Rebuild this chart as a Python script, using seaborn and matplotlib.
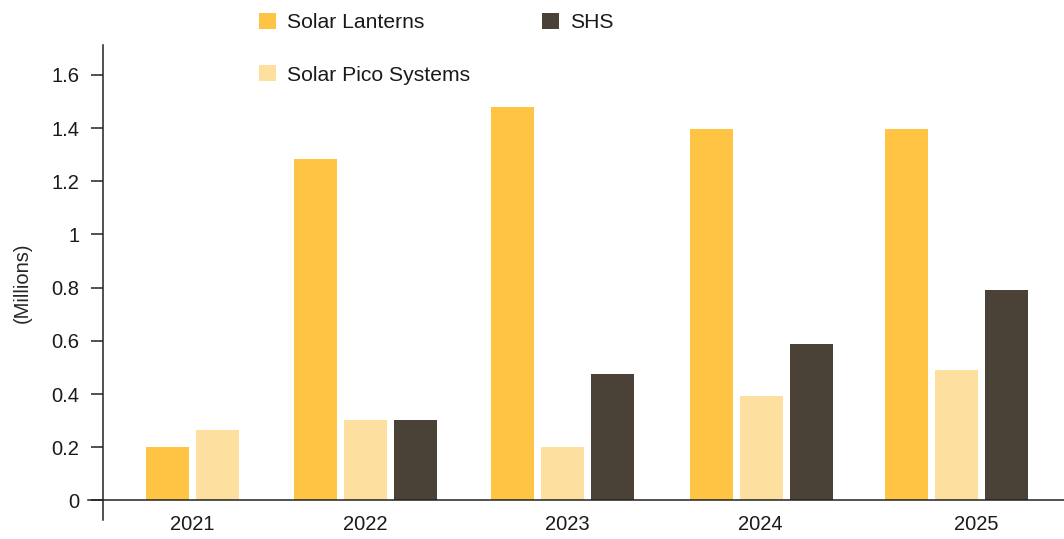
import matplotlib
matplotlib.use("Agg")
import matplotlib.pyplot as plt
import seaborn as sns
import pandas as pd
import numpy as np
from matplotlib.ticker import FuncFormatter

# ---- data ----
years = ["2021", "2022", "2023", "2024", "2025"]
series = ["Solar Lanterns", "Solar Pico Systems", "SHS"]
lanterns = [0.20, 1.285, 1.48, 1.395, 1.395]
pico = [0.265, 0.302, 0.20, 0.393, 0.49]
shs = [np.nan, 0.302, 0.477, 0.587, 0.79]
yticks = [0, 0.2, 0.4, 0.6, 0.8, 1.0, 1.2, 1.4, 1.6]

# ---- layout (horizontal units) ----
group_centers = [192.5, 365.5, 562.5, 761.0, 956.0]
label_centers = [192.0, 365.0, 567.0, 760.0, 976.0]
slot = 50.0
colors = {"Solar Lanterns": "#FFC444", "Solar Pico Systems": "#FDDFA0", "SHS": "#4A4137"}

rows = []
vals = {"Solar Lanterns": lanterns, "Solar Pico Systems": pico, "SHS": shs}
for gi, yr in enumerate(years):
    present = [s for s in series if not np.isnan(vals[s][gi])]
    n = len(present)
    for k, s in enumerate(present):
        rows.append({"year": yr, "series": s, "value": vals[s][gi],
                     "pos": group_centers[gi] + (k - (n - 1) / 2) * slot})
df = pd.DataFrame(rows)

sns.set_theme(style="white")
plt.rcParams["font.family"] = ["Liberation Sans", "DejaVu Sans"]
plt.rcParams["text.color"] = "#1a1a1a"

fig = plt.figure(figsize=(10.64, 5.39), dpi=100)
W, H = 1064, 539
ax = fig.add_axes([88 / W, (H - 520) / H, (W - 88) / W, 475 / H])

sns.barplot(data=df, x="pos", y="value", hue="series", hue_order=series,
            palette=colors, native_scale=True, dodge=False, orient="x",
            width=0.86, saturation=1, errorbar=None, linewidth=0, ax=ax)

ax.set_xlim(88, 1064)
ax.set_ylim(-0.0733, 1.712)

for side in ["top", "right"]:
    ax.spines[side].set_visible(False)
ax.spines["bottom"].set_position(("data", 0))
ax.spines["left"].set_position(("data", 103))
for side in ["bottom", "left"]:
    ax.spines[side].set_color("#222222")
    ax.spines[side].set_linewidth(1.1)

ax.set_yticks(yticks)
ax.yaxis.set_major_formatter(FuncFormatter(lambda v, p: f"{v:g}"))
ax.tick_params(axis="y", length=9, width=1.1, color="#222222", pad=8,
               labelsize=14.5, left=True, labelcolor="#1a1a1a")
ax.set_xticks(label_centers)
ax.set_xticklabels(years)
ax.tick_params(axis="x", length=0, pad=10.5, labelsize=14.5, labelcolor="#1a1a1a")
ax.set_xlabel("")
ax.set_ylabel("(Millions)", fontsize=14.5, labelpad=14)

sns.move_legend(ax, loc="upper left", bbox_to_anchor=(259 / W, 1.0 - 13 / H),
                bbox_transform=fig.transFigure, ncol=2, frameon=False,
                title=None, fontsize=15.2, handlelength=0.8, handleheight=0.8,
                handletextpad=0.52, labelspacing=1.55, columnspacing=3.4,
                borderpad=0, borderaxespad=0)

fig.savefig("out.png", dpi=100)
